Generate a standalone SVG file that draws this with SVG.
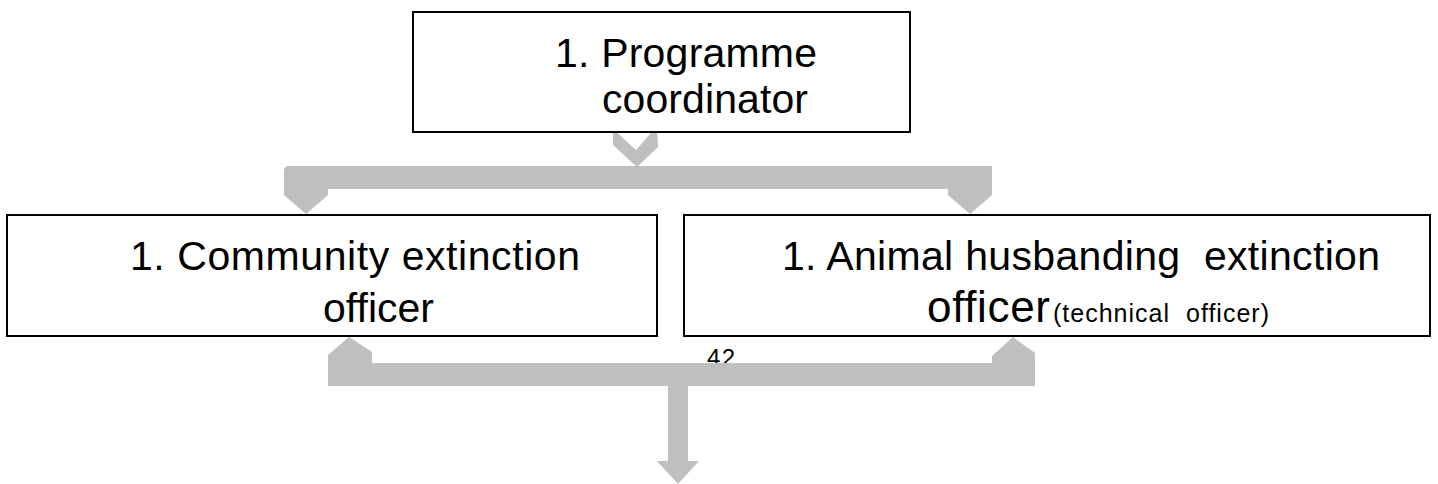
<svg xmlns="http://www.w3.org/2000/svg" width="1438" height="484" viewBox="0 0 1438 484">
<style>
.box{fill:#ffffff;stroke:#000000;stroke-width:2}
.t{font-family:"Liberation Sans",Arial,sans-serif;fill:#000000}
.big{font-size:41px}
.conn{fill:#bfbfbf;stroke:none}
</style>
<rect width="1438" height="484" fill="#ffffff"/>
<g id="page-number">
<text class="t" x="707" y="366" font-size="24" textLength="28">42</text>
</g>
<g id="connectors">
<polygon class="conn" points="613,129 636,150 657,126 658,147 637,167 613,145"/>
<path class="conn" d="M284,171 Q284,166 289,166 L992,166 L992,195 L970,214 L948,195 L948,189 L328,189 L328,195 L306,214 L284,195 Z"/>
<path class="conn" d="M328,386 L328,355 L349,337 L372,352 L372,363 L992,363 L992,356 L1013,337 L1035,353 L1035,386 L688,386 L688,461 L699,461 L678,484 L657,461 L668,461 L668,386 Z"/>
</g>
<g id="node-programme-coordinator">
<rect class="box" x="413" y="12" width="497" height="120"/>
<text class="t big" x="555" y="67" textLength="262">1. Programme</text>
<text class="t big" x="602" y="113" textLength="206">coordinator</text>
</g>
<g id="node-community-officer">
<rect class="box" x="7" y="215" width="650" height="121"/>
<text class="t big" x="130" y="270" textLength="450">1. Community extinction</text>
<text class="t big" x="323" y="322" textLength="111">officer</text>
</g>
<g id="node-animal-officer">
<rect class="box" x="684" y="215" width="746" height="121"/>
<text class="t big" x="782" y="270" textLength="598" xml:space="preserve">1. Animal husbanding  extinction</text>
<text class="t" y="322" xml:space="preserve"><tspan x="927" font-size="44" textLength="123">officer</tspan><tspan x="1053" font-size="25" textLength="216">(technical  officer)</tspan></text>
</g>
</svg>
